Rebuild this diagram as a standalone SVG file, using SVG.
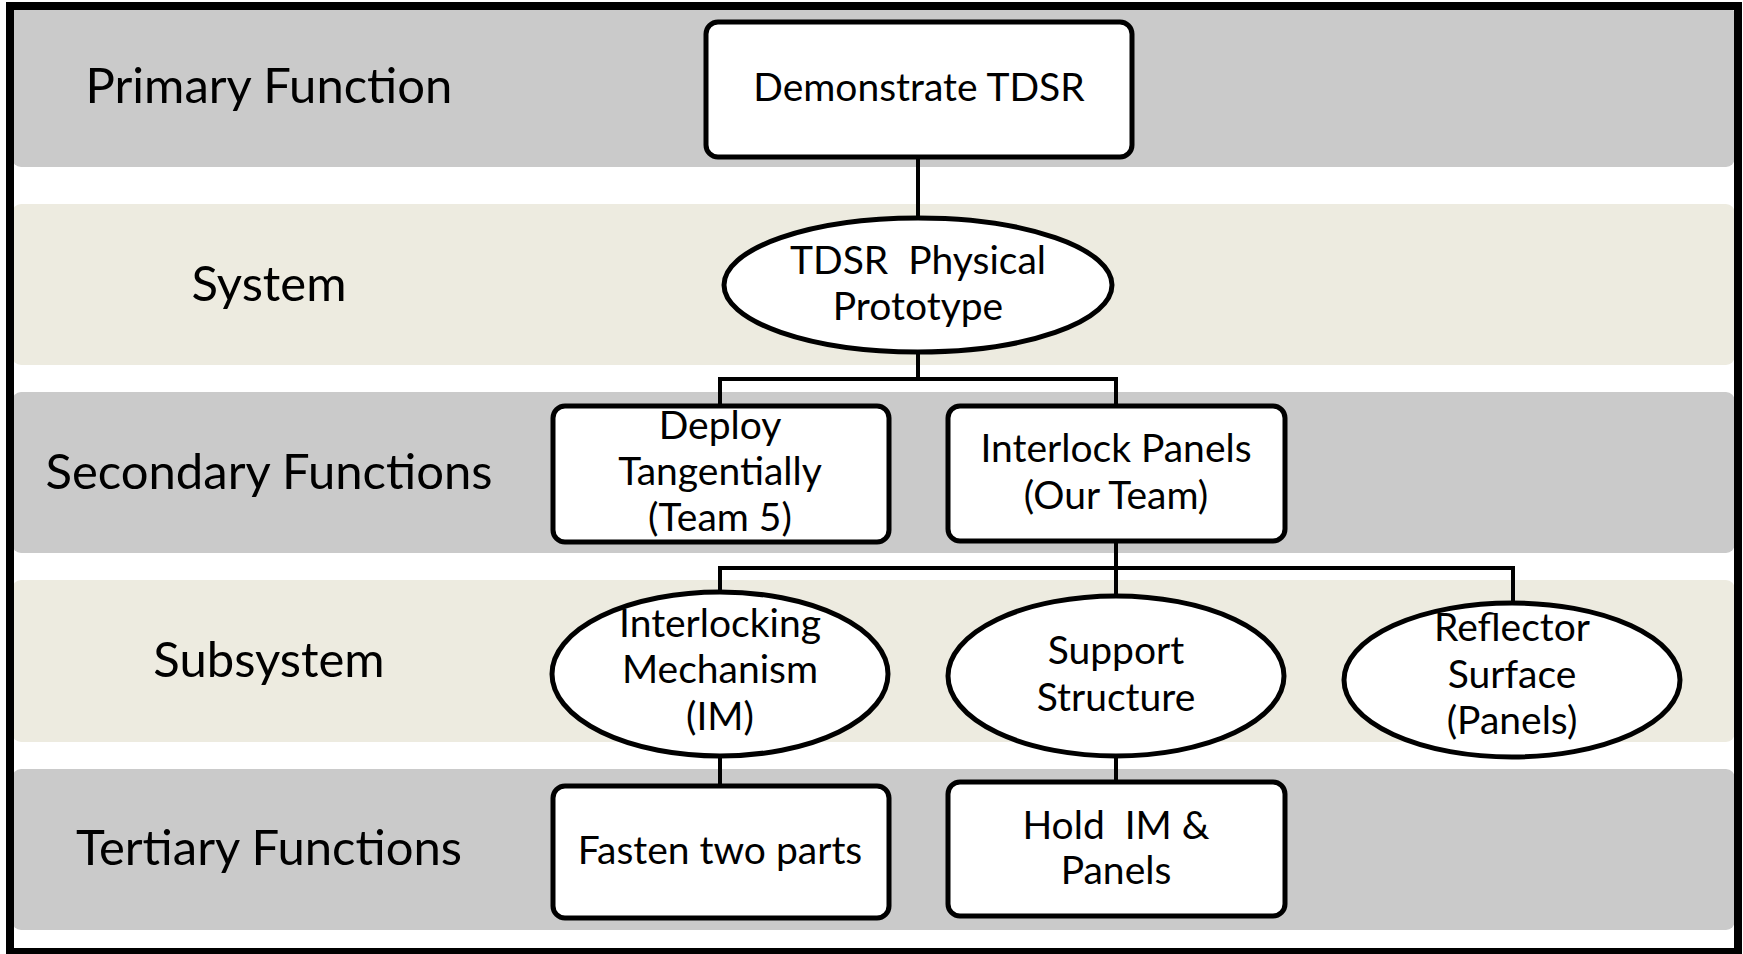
<svg xmlns="http://www.w3.org/2000/svg" width="1743" height="954" viewBox="0 0 1743 954">
<style>
.bg{fill:#fff}
.g{fill:#cacaca}
.b{fill:#edebe0}
.lbl{font-family:Lato,"Liberation Sans",sans-serif;font-size:49px;fill:#000;text-anchor:middle}
.t{font-family:Lato,"Liberation Sans",sans-serif;font-size:39px;fill:#000;text-anchor:middle}
.n{fill:#fff;stroke:#000;stroke-width:5}
.c{fill:none;stroke:#000;stroke-width:4}
</style>
<rect class="bg" x="0" y="0" width="1743" height="954"/>
<g id="bands">
<rect class="g" x="12" y="6" width="1723" height="161" rx="9"/>
<rect class="b" x="12" y="204" width="1723" height="161" rx="9"/>
<rect class="g" x="12" y="392" width="1723" height="161" rx="9"/>
<rect class="b" x="12" y="580" width="1723" height="162" rx="9"/>
<rect class="g" x="12" y="769" width="1723" height="161" rx="9"/>
</g>
<g id="labels">
<text class="lbl" x="269" y="103">Primary Function</text>
<text class="lbl" x="269" y="301">System</text>
<text class="lbl" x="269" y="489">Secondary Functions</text>
<text class="lbl" x="269" y="677">Subsystem</text>
<text class="lbl" x="269" y="865">Tertiary Functions</text>
</g>
<g id="connectors">
<path class="c" d="M918 157 V217"/>
<path class="c" d="M918 352 V379 M720 406 V379 H1116 V406"/>
<path class="c" d="M1116 541 V568 M720 592 V568 H1513 V603 M1116 568 V595"/>
<path class="c" d="M720 756 V786"/>
<path class="c" d="M1116 756 V782"/>
</g>
<g id="n-demonstrate">
<rect class="n" x="706" y="22" width="426" height="135" rx="12"/>
<text class="t" x="919" y="101">Demonstrate TDSR</text>
</g>
<g id="n-prototype">
<ellipse class="n" cx="918" cy="285" rx="194" ry="67"/>
<text class="t" x="918" y="274" xml:space="preserve">TDSR  Physical</text>
<text class="t" x="918" y="320">Prototype</text>
</g>
<g id="n-deploy">
<rect class="n" x="553" y="406" width="336" height="136" rx="12"/>
<text class="t" x="720" y="439">Deploy</text>
<text class="t" x="720" y="485">Tangentially</text>
<text class="t" x="720" y="531">(Team 5)</text>
</g>
<g id="n-interlock">
<rect class="n" x="948" y="406" width="337" height="135" rx="12"/>
<text class="t" x="1116" y="462">Interlock Panels</text>
<text class="t" x="1116" y="509">(Our Team)</text>
</g>
<g id="n-im">
<ellipse class="n" cx="720" cy="674" rx="168" ry="82"/>
<text class="t" x="720" y="637">Interlocking</text>
<text class="t" x="720" y="683">Mechanism</text>
<text class="t" x="720" y="730">(IM)</text>
</g>
<g id="n-support">
<ellipse class="n" cx="1116" cy="676" rx="168" ry="80"/>
<text class="t" x="1116" y="664">Support</text>
<text class="t" x="1116" y="711">Structure</text>
</g>
<g id="n-reflector">
<ellipse class="n" cx="1512" cy="680" rx="168" ry="77"/>
<text class="t" x="1512" y="641">Reflector</text>
<text class="t" x="1512" y="688">Surface</text>
<text class="t" x="1512" y="734">(Panels)</text>
</g>
<g id="n-fasten">
<rect class="n" x="553" y="786" width="336" height="132" rx="12"/>
<text class="t" x="720" y="864">Fasten two parts</text>
</g>
<g id="n-hold">
<rect class="n" x="948" y="782" width="337" height="134" rx="12"/>
<text class="t" x="1116" y="839" xml:space="preserve">Hold  IM &amp;</text>
<text class="t" x="1116" y="884">Panels</text>
</g>
<rect id="frame" x="10" y="6" width="1728" height="946" fill="none" stroke="#000" stroke-width="8"/>
</svg>
